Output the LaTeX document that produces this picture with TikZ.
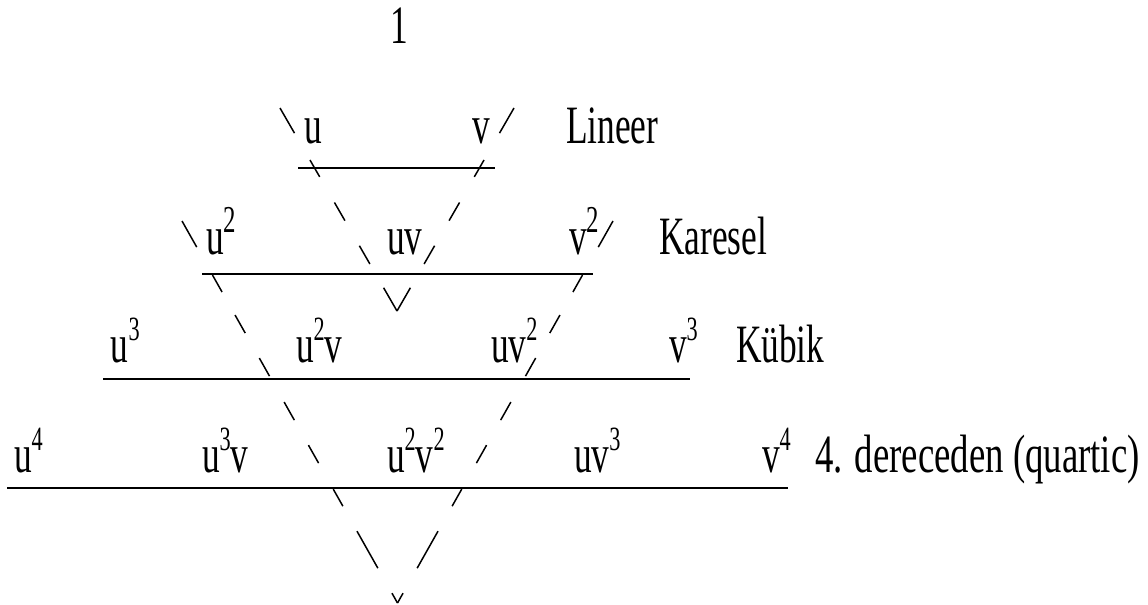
\documentclass[tikz,border=0pt]{standalone}
\usepackage{fontspec}
\setmainfont{Liberation Serif}[FakeStretch=0.655]
\newcommand\supb[1]{\raisebox{11pt}{\fontsize{19}{19}\selectfont #1}}
\newcommand\sups[1]{\raisebox{11pt}{\fontsize{17}{17}\selectfont #1}}
\begin{document}
\begin{tikzpicture}[x=0.5pt,y=-0.5pt,
  lbl/.style={inner sep=0pt, outer sep=0pt, anchor=base west, font=\fontsize{27}{30}\selectfont},
  rulex/.style={line width=1.2pt},
  vline/.style={line width=0.75pt},
  smallv/.style={vline, dash pattern=on 14.5pt off 15.5pt on 9.75pt off 14.75pt on 10.5pt off 14.5pt on 10.5pt off 13.75pt on 14pt},
  bigv/.style={vline, dash pattern=on 15pt off 16pt on 9.8pt off 13.2pt on 10.35pt off 14.35pt on 10.35pt off 14.9pt on 10.35pt off 14.35pt on 10.35pt off 14.95pt on 9.75pt off 14.35pt on 21.25pt off 14.35pt on 5.75pt}]
\useasboundingbox (0,0) rectangle (1148,605);

% top
\node[lbl, anchor=base] (one) at (399,43) {1};

% row 1
\node[lbl] (r1u) at (304,143) {u};
\node[lbl] (r1v) at (472,143) {v};
\node[lbl] (r1t) at (566,143) {Lineer};

% row 2
\node[lbl] (r2a) at (206,254) {u\supb{2}};
\node[lbl] (r2b) at (387,254) {uv};
\node[lbl] (r2c) at (569,254) {v\supb{2}};
\node[lbl] (r2t) at (659,254) {Karesel};

% row 3
\node[lbl] (r3a) at (111,362) {u\sups{3}};
\node[lbl] (r3b) at (296,362) {u\sups{2}v};
\node[lbl] (r3c) at (491,362) {uv\sups{2}};
\node[lbl] (r3d) at (669,362) {v\sups{3}};
\node[lbl] (r3t) at (736,362) {Kübik};

% row 4
\node[lbl] (r4a) at (14,472) {u\sups{4}};
\node[lbl] (r4b) at (202,472) {u\sups{3}v};
\node[lbl] (r4c) at (387,472) {u\sups{2}v\sups{2}};
\node[lbl] (r4d) at (574,472) {uv\sups{3}};
\node[lbl] (r4e) at (762,472) {v\sups{4}};
\node[lbl] (r4t) at (815,472) {\scalebox{1.04}[1]{4. dereceden (quartic)}};

% horizontal rules
\coordinate (h1a) at (298,168); \coordinate (h1b) at (495,168);
\coordinate (h2a) at (202,274); \coordinate (h2b) at (593,274);
\coordinate (h3a) at (103,379); \coordinate (h3b) at (690,379);
\coordinate (h4a) at (7,488);   \coordinate (h4b) at (788,488);
\draw[rulex] (h1a) -- (h1b);
\draw[rulex] (h2a) -- (h2b);
\draw[rulex] (h3a) -- (h3b);
\draw[rulex] (h4a) -- (h4b);

% dashed V lines
\coordinate (sL) at (280,108); \coordinate (sR) at (514,108); \coordinate (sA) at (397,311);
\coordinate (bL) at (182,221); \coordinate (bR) at (613,221); \coordinate (bA) at (397.5,603);
\draw[smallv] (sL) -- (sA);
\draw[smallv] (sR) -- (sA);
\draw[bigv] (bL) -- (bA);
\draw[bigv] (bR) -- (bA);
\end{tikzpicture}
\end{document}
